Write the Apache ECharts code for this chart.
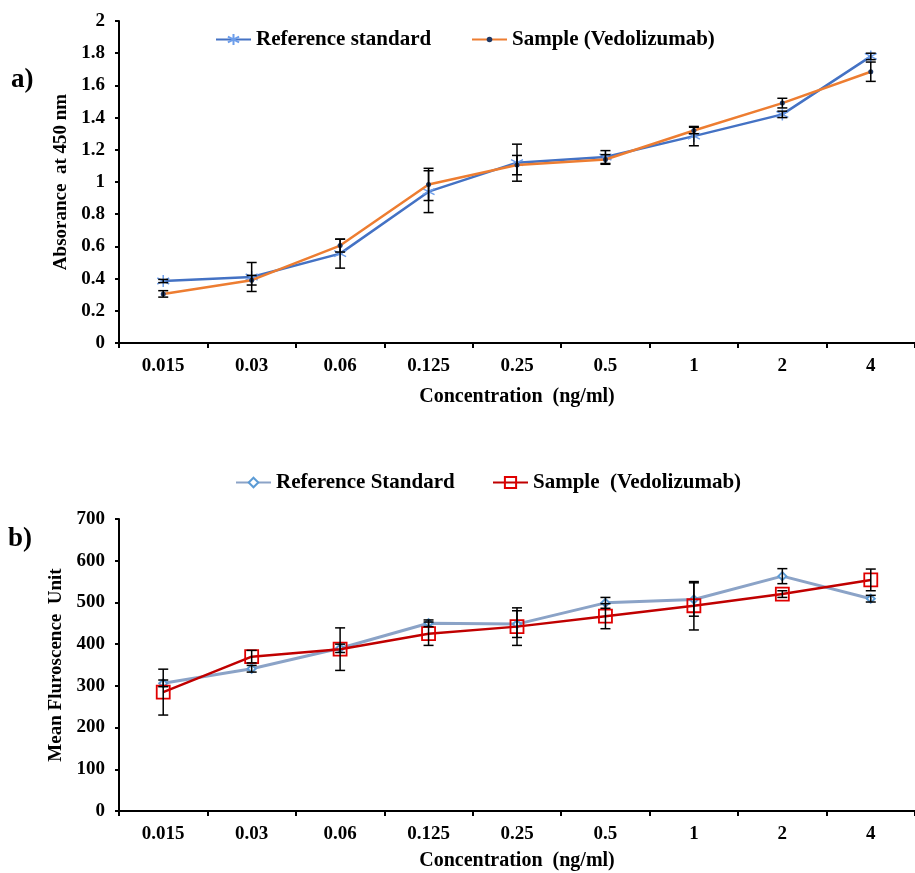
<!DOCTYPE html>
<html>
<head>
    <meta charset="utf-8">
    <title>Absorbance and fluorescence</title>
    <script src="https://cdn.jsdelivr.net/npm/echarts@6/dist/echarts.min.js"></script>
    <style>
        html, body { margin: 0; padding: 0; background: #fff; }
        #chart1 { width: 915px; height: 873px; }
    </style>
</head>
<body>
<div id="chart1"></div>
<script>
    // 数据
    var categories = ['0.015', '0.03', '0.06', '0.125', '0.25', '0.5', '1', '2', '4'];

    // a) absorbance
    var absRef = [0.385, 0.41, 0.555, 0.94, 1.12, 1.155, 1.285, 1.42, 1.78];
    var absRefErr = [0.01, 0.09, 0.09, 0.13, 0.115, 0.04, 0.06, 0.02, 0.02];
    var absSample = [0.305, 0.39, 0.605, 0.985, 1.105, 1.14, 1.32, 1.49, 1.685];
    var absSampleErr = [0.02, 0.03, 0.04, 0.1, 0.06, 0.03, 0.02, 0.03, 0.06];

    // b) fluorescence
    var fluRef = [306, 341, 390, 450, 448, 499, 507, 563, 509];
    var fluRefErr = [8, 8, 10, 8, 32, 13, 40, 18, 8];
    var fluSample = [285, 370, 388, 425, 442, 467, 492, 520, 554];
    var fluSampleErr = [55, 15, 51, 28, 45, 30, 58, 8, 26];

    var serif = 'Liberation Serif';
    var boldText = {fontFamily: serif, fontWeight: 'bold', color: '#000'};

    function errData(vals, errs) {
        return vals.map(function (v, i) { return [i, v - errs[i], v + errs[i]]; });
    }

    function errBars(v, e, xi, yi) {
        return {
            type: 'custom',
            xAxisIndex: xi,
            yAxisIndex: yi,
            z: 5,
            silent: true,
            encode: {x: 0, y: [1, 2]},
            data: errData(v, e),
            renderItem: function (params, api) {
                var i = api.value(0);
                var lo = api.coord([i, api.value(1)]);
                var hi = api.coord([i, api.value(2)]);
                var hw = 5;
                var st = {stroke: '#000', lineWidth: 1.5};
                return {
                    type: 'group',
                    children: [
                        {type: 'line', shape: {x1: lo[0], y1: lo[1], x2: hi[0], y2: hi[1]}, style: st},
                        {type: 'line', shape: {x1: hi[0] - hw, y1: hi[1], x2: hi[0] + hw, y2: hi[1]}, style: st},
                        {type: 'line', shape: {x1: lo[0] - hw, y1: lo[1], x2: lo[0] + hw, y2: lo[1]}, style: st}
                    ]
                };
            }
        };
    }

    function xAxis(gi) {
        return {
            type: 'category',
            gridIndex: gi,
            data: categories,
            name: 'Concentration  (ng/ml)',
            nameLocation: 'middle',
            nameGap: gi === 0 ? 44 : 40,
            nameTextStyle: Object.assign({fontSize: 20}, boldText),
            axisLine: {lineStyle: {color: '#000', width: 2}},
            axisTick: {show: true, length: 5, lineStyle: {color: '#000', width: 2}},
            axisLabel: Object.assign({fontSize: 19, margin: 14}, boldText),
            splitLine: {show: false}
        };
    }

    function yAxis(gi, max, step, title) {
        return {
            type: 'value', gridIndex: gi, min: 0, max: max, interval: step,
            name: title, nameLocation: 'middle', nameGap: 46,
            nameTextStyle: Object.assign({fontSize: 19}, boldText),
            axisLine: {show: true, lineStyle: {color: '#000', width: 2}},
            axisTick: {show: true, length: 4, lineStyle: {color: '#000', width: 2}},
            axisLabel: Object.assign({fontSize: 19, margin: 14}, boldText),
            splitLine: {show: false}
        };
    }

    function legendItem(name, left, top, h) {
        return {
            left: left, top: top,
            itemWidth: 35, itemHeight: h,
            textStyle: Object.assign({fontSize: 21}, boldText),
            data: [name]
        };
    }

    var myChart = echarts.init(document.getElementById('chart1'));

    var option = {
        animation: false,
        backgroundColor: '#fff',
        graphic: [
            {type: 'text', left: 11, top: 67, style: {text: 'a)', font: 'bold 27px "Liberation Serif"', fill: '#000'}},
            {type: 'text', left: 8, top: 526, style: {text: 'b)', font: 'bold 27px "Liberation Serif"', fill: '#000'}}
        ],
        legend: [
            legendItem('Reference standard', 210, 24, 14),
            legendItem('Sample (Vedolizumab)', 466, 24, 7),
            legendItem('Reference Standard', 230, 467, 12),
            legendItem('Sample  (Vedolizumab)', 487, 467, 14)
        ],
        grid: [
            {left: 119, width: 803, top: 21, height: 322},
            {left: 119, width: 803, top: 519, height: 292}
        ],
        xAxis: [xAxis(0), xAxis(1)],
        yAxis: [
            yAxis(0, 2, 0.2, 'Absorance  at 450 nm'),
            yAxis(1, 700, 100, 'Mean Fluroscence  Unit')
        ],
        series: [
            {
                name: 'Reference standard', type: 'line', xAxisIndex: 0, yAxisIndex: 0,
                data: absRef,
                symbol: 'path://M0,-10L0,10M-8.7,-5L8.7,5M-8.7,5L8.7,-5',
                symbolSize: 12,
                lineStyle: {color: '#4472c4', width: 2.5},
                itemStyle: {color: 'none', borderColor: '#6d9eeb', borderWidth: 1.5},
                z: 3
            },
            {
                name: 'Sample (Vedolizumab)', type: 'line', xAxisIndex: 0, yAxisIndex: 0,
                data: absSample,
                symbol: 'circle', symbolSize: 5,
                lineStyle: {color: '#ed7d31', width: 2.5},
                itemStyle: {color: '#1f3864'},
                z: 4
            },
            errBars(absRef, absRefErr, 0, 0),
            errBars(absSample, absSampleErr, 0, 0),
            {
                name: 'Reference Standard', type: 'line', xAxisIndex: 1, yAxisIndex: 1,
                data: fluRef,
                symbol: 'emptyDiamond', symbolSize: 8,
                lineStyle: {color: '#8ba3c7', width: 3},
                itemStyle: {color: '#5b9bd5', borderWidth: 1.5},
                z: 3
            },
            {
                name: 'Sample  (Vedolizumab)', type: 'line', xAxisIndex: 1, yAxisIndex: 1,
                data: fluSample,
                symbol: 'rect', symbolSize: 13,
                lineStyle: {color: '#c00000', width: 2.5},
                itemStyle: {color: 'rgba(255,255,255,0)', borderColor: '#e00000', borderWidth: 1.8},
                z: 4
            },
            errBars(fluRef, fluRefErr, 1, 1),
            errBars(fluSample, fluSampleErr, 1, 1)
        ]
    };

    myChart.setOption(option);
</script>
</body>
</html>
